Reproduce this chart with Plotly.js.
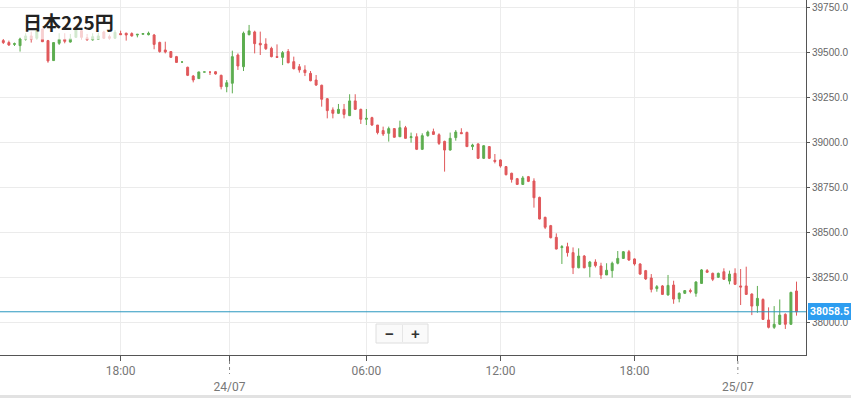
<!DOCTYPE html>
<html>
<head>
<meta charset="utf-8">
<script src="https://cdn.plot.ly/plotly-3.0.1.min.js"></script>
<style>html,body{margin:0;padding:0;background:#fff;}#chart{width:851px;height:398px;}</style>
</head>
<body>
<div id="chart"></div>
<script>
const title = "日本225円";
const lastPrice = 38058.5;

const open = [39565,39554,39544,39537,39572,39591,39578,39628,39565,39454,39550,39572,39557,39583,39620,39581,39569,39572,39613,39587,39578,39604,39606,39604,39596,39600,39598,39596,39555,39513,39504,39476,39446,39417,39368,39354,39390,39390,39392,39372,39309,39328,39485,39420,39598,39613,39550,39546,39522,39476,39472,39504,39448,39420,39402,39383,39346,39317,39242,39180,39161,39183,39148,39230,39183,39128,39137,39096,39065,39050,39076,39031,39081,39026,39031,38961,39037,39059,39042,39005,38957,39026,39054,39055,38976,38991,38911,38976,38900,38902,38865,38828,38798,38766,38809,38785,38694,38583,38537,38472,38415,38420,38387,38303,38368,38309,38335,38313,38263,38287,38328,38355,38392,38352,38324,38287,38246,38187,38202,38152,38207,38131,38161,38176,38161,38216,38287,38272,38250,38281,38229,38272,38202,38202,38157,38092,38127,38013,37972,37989,38044,37989,38174];
const high = [39574,39565,39554,39581,39606,39615,39633,39633,39569,39556,39606,39606,39602,39633,39633,39602,39606,39609,39620,39598,39624,39620,39609,39611,39600,39606,39615,39602,39559,39559,39507,39480,39447,39420,39374,39392,39391,39392,39396,39376,39346,39509,39494,39615,39652,39620,39615,39578,39531,39544,39507,39518,39476,39435,39428,39396,39374,39320,39246,39194,39213,39213,39267,39267,39187,39185,39142,39096,39087,39087,39079,39120,39091,39054,39050,39050,39065,39076,39050,39009,39054,39068,39078,39059,38992,38994,38985,38979,38935,38905,38868,38831,38802,38813,38813,38800,38698,38587,38541,38494,38429,38442,38416,38411,38374,38341,38350,38331,38328,38337,38396,38396,38402,38355,38328,38291,38268,38207,38207,38263,38231,38166,38179,38187,38228,38296,38296,38276,38276,38300,38287,38300,38296,38309,38161,38202,38133,38083,38090,38127,38050,38170,38226];
const low = [39546,39535,39535,39504,39565,39554,39572,39557,39442,39452,39541,39550,39554,39583,39572,39565,39565,39569,39574,39572,39576,39596,39565,39587,39583,39600,39594,39517,39498,39494,39470,39442,39445,39368,39333,39353,39390,39374,39376,39294,39278,39272,39402,39396,39594,39494,39485,39513,39472,39470,39429,39439,39405,39387,39368,39339,39313,39198,39133,39133,39157,39133,39146,39180,39102,39096,39091,39044,39035,39004,39026,39031,39020,38998,38957,38957,39031,39041,38985,38837,38954,39009,39048,38976,38957,38907,38907,38907,38883,38859,38816,38776,38763,38763,38779,38637,38572,38518,38466,38405,38324,38365,38268,38300,38300,38250,38305,38241,38263,38248,38322,38352,38341,38315,38263,38235,38166,38170,38152,38148,38103,38111,38157,38161,38142,38213,38276,38229,38246,38235,38211,38207,38096,38152,38040,38053,38013,37966,37963,37985,37963,37985,38037];
const close = [39554,39541,39548,39574,39591,39572,39620,39559,39452,39554,39572,39561,39576,39624,39583,39569,39587,39591,39578,39578,39611,39598,39596,39591,39600,39604,39606,39544,39504,39502,39472,39444,39446,39372,39346,39391,39391,39390,39380,39309,39331,39476,39424,39606,39619,39548,39541,39520,39476,39472,39498,39442,39409,39402,39387,39342,39318,39239,39176,39161,39183,39155,39230,39183,39128,39133,39096,39054,39046,39076,39028,39081,39022,39031,38961,39037,39057,39044,38994,38957,39022,39057,39048,38976,38985,38911,38981,38911,38894,38868,38820,38794,38766,38802,38783,38692,38574,38528,38470,38407,38420,38387,38303,38368,38303,38335,38315,38263,38289,38328,38355,38392,38346,38324,38268,38241,38183,38198,38155,38205,38129,38161,38176,38172,38224,38291,38278,38239,38272,38239,38268,38211,38196,38155,38090,38133,38016,37972,37989,38040,37989,38166,38058.5];

const xTickVals = [21, 40.5, 65, 89, 113, 131.5];
const xTickText = ["18:00", "\u00a0<br>24/07", "06:00", "12:00", "18:00", "\u00a0<br>25/07"];
const dateTickVals = [40.5, 131.5];
const yTickVals = [38000, 38250, 38500, 38750, 39000, 39250, 39500, 39750];

const idx = open.map((_, i) => i);
const W = 806, H = 355;
const px = v => v / W;
const py = v => 1 - v / H;

const trace = {
  type: 'candlestick',
  x: idx, open: open, high: high, low: low, close: close,
  increasing: {line: {color: '#5dad50', width: 1}, fillcolor: '#5dad50'},
  decreasing: {line: {color: '#e0585b', width: 1}, fillcolor: '#e0585b'},
  whiskerwidth: 0,
  hoverinfo: 'skip',
  showlegend: false
};

const shapes = [];
dateTickVals.forEach(v => {
  shapes.push({type: 'line', xref: 'x', yref: 'paper', x0: v, x1: v, y0: 0, y1: 1,
    line: {color: '#d4d4d4', width: 1}, layer: 'below'});
  shapes.push({type: 'line', xref: 'x', yref: 'paper', x0: v, x1: v, y0: py(361), y1: py(374),
    line: {color: '#888', width: 1, dash: 'dot'}});
});
// last price line
shapes.push({type: 'line', xref: 'paper', yref: 'y', x0: 0, x1: 1, y0: lastPrice, y1: lastPrice,
  line: {color: '#2a98bf', width: 1}});
// translucent panel behind title
shapes.push({type: 'rect', xref: 'paper', yref: 'paper', x0: px(22), x1: px(118), y0: py(39.5), y1: py(9),
  fillcolor: 'rgba(255,255,255,0.72)', line: {width: 0}, layer: 'above'});
// zoom buttons box
shapes.push({type: 'rect', xref: 'paper', yref: 'paper', x0: px(376), x1: px(428), y0: py(343), y1: py(324),
  fillcolor: '#fafafa', line: {color: '#dedede', width: 1}});
shapes.push({type: 'line', xref: 'paper', yref: 'paper', x0: px(402.5), x1: px(402.5), y0: py(342), y1: py(325),
  line: {color: '#e6e6e6', width: 1}});
// bottom band
shapes.push({type: 'rect', xref: 'paper', yref: 'paper', x0: -0.01, x1: 851 / W, y0: py(398.5), y1: py(395),
  fillcolor: '#e2e2e2', line: {width: 0}});

const annotations = [
  {xref: 'paper', yref: 'paper', x: px(21), y: py(21.7), xanchor: 'left', yanchor: 'middle',
   text: '<b>' + title + '</b>', showarrow: false,
   font: {family: '"Noto Sans CJK JP", "Noto Sans", sans-serif', size: 19, color: '#222'}},
  {xref: 'paper', yref: 'y', x: 1, xshift: 2, y: lastPrice, xanchor: 'left', yanchor: 'middle',
   text: '<b>' + lastPrice.toFixed(1) + '</b>', showarrow: false,
   bgcolor: '#2d9df0', bordercolor: '#2d9df0', borderpad: 1,
   font: {family: 'Roboto, Arial, sans-serif', size: 10.5, color: '#fff'}},
  {xref: 'paper', yref: 'paper', x: px(389.5), y: py(333.5), xanchor: 'center', yanchor: 'middle',
   text: '<b>\u2212</b>', showarrow: false, font: {family: 'Arial', size: 15, color: '#333'}},
  {xref: 'paper', yref: 'paper', x: px(415.5), y: py(333.5), xanchor: 'center', yanchor: 'middle',
   text: '<b>+</b>', showarrow: false, font: {family: 'Arial', size: 15, color: '#333'}}
];

const layout = {
  width: 851, height: 398,
  margin: {l: 0, r: 45, t: 0, b: 43, pad: 0},
  paper_bgcolor: '#fff', plot_bgcolor: '#fff',
  boxgap: 0.5,
  showlegend: false,
  hovermode: false,
  xaxis: {
    type: 'linear', range: [-0.59, 143.7],
    rangeslider: {visible: false},
    tickmode: 'array', tickvals: xTickVals, ticktext: xTickText,
    showgrid: true, gridcolor: '#ececec', gridwidth: 1,
    showline: true, linecolor: '#555', linewidth: 1,
    ticks: 'outside', ticklen: 5, tickcolor: '#555',
    tickfont: {family: 'Roboto, Arial, sans-serif', size: 12, color: '#777'},
    zeroline: false, fixedrange: true
  },
  yaxis: {
    side: 'right', range: [37818.3, 39790.6],
    tickmode: 'array', tickvals: yTickVals, tickformat: '.1f',
    showgrid: true, gridcolor: '#ebebeb', gridwidth: 1,
    showline: true, linecolor: '#555', linewidth: 1,
    ticks: 'outside', ticklen: 3, tickcolor: '#555',
    tickfont: {family: 'Arial, "Liberation Sans", sans-serif', size: 10, color: '#666'},
    zeroline: false, fixedrange: true
  },
  shapes: shapes,
  annotations: annotations
};

Plotly.newPlot('chart', [trace], layout, {displayModeBar: false, staticPlot: true});
</script>
</body>
</html>
